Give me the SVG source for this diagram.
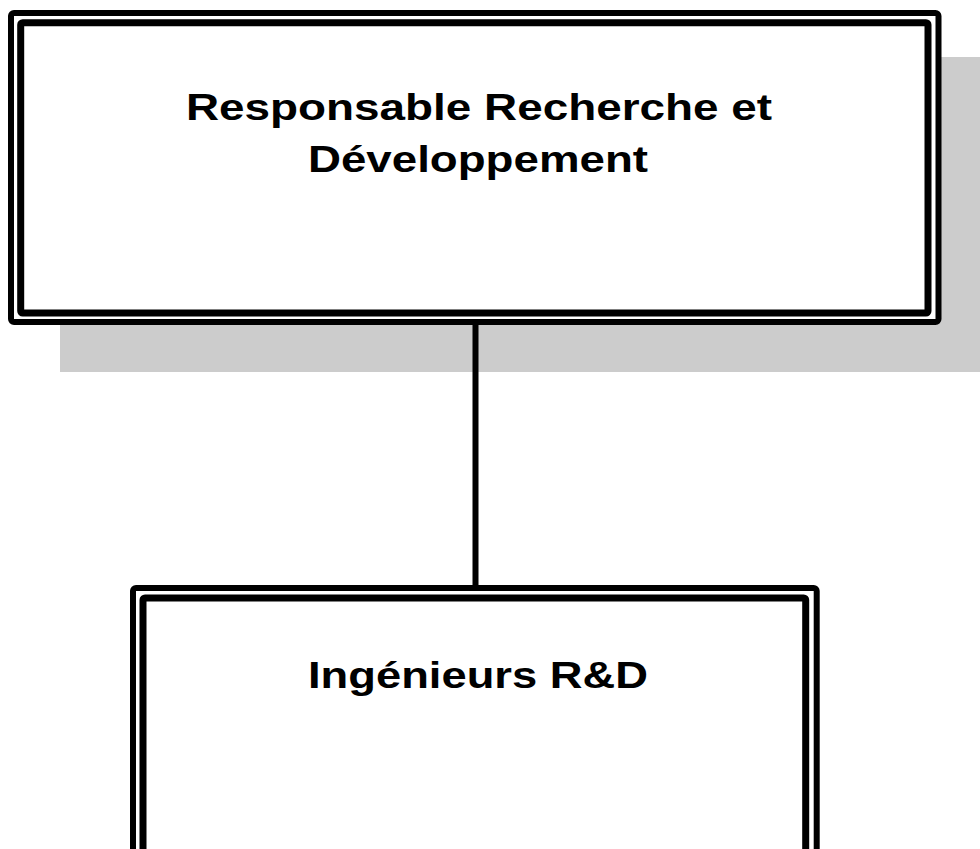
<svg xmlns="http://www.w3.org/2000/svg" width="980" height="849" viewBox="0 0 980 849">
<style>
.outer{fill:#fff;stroke:#000;stroke-width:6;stroke-linejoin:round}
.inner{fill:#fff;stroke:#000;stroke-width:7;stroke-linejoin:round}
.shadow{fill:#cccccc}
.lbl{font-family:"Liberation Sans",Arial,sans-serif;font-weight:bold;font-size:37px;fill:#000;text-anchor:middle}
.conn{stroke:#000;stroke-width:6;fill:none}
</style>
<rect width="980" height="849" fill="#fff"/>
<g id="node-responsable">
<rect class="shadow" x="60" y="57" width="934" height="315"/>
<rect class="outer" x="11" y="13" width="927.5" height="309" rx="3"/>
<rect class="inner" x="20.7" y="22.7" width="907.3" height="290.3" rx="2"/>
<text class="lbl" x="479" y="120" textLength="586" lengthAdjust="spacingAndGlyphs">Responsable Recherche et</text>
<text class="lbl" x="478" y="172" textLength="340" lengthAdjust="spacingAndGlyphs">Développement</text>
</g>
<g id="node-ingenieurs">
<rect class="outer" x="133" y="588" width="683.7" height="320" rx="3"/>
<rect class="inner" x="143" y="598" width="662.7" height="300" rx="2"/>
<text class="lbl" x="478" y="688" textLength="340" lengthAdjust="spacingAndGlyphs">Ingénieurs R&amp;D</text>
</g>
<g id="connectors">
<line class="conn" x1="475.5" y1="325" x2="475.5" y2="588"/>
</g>
</svg>
